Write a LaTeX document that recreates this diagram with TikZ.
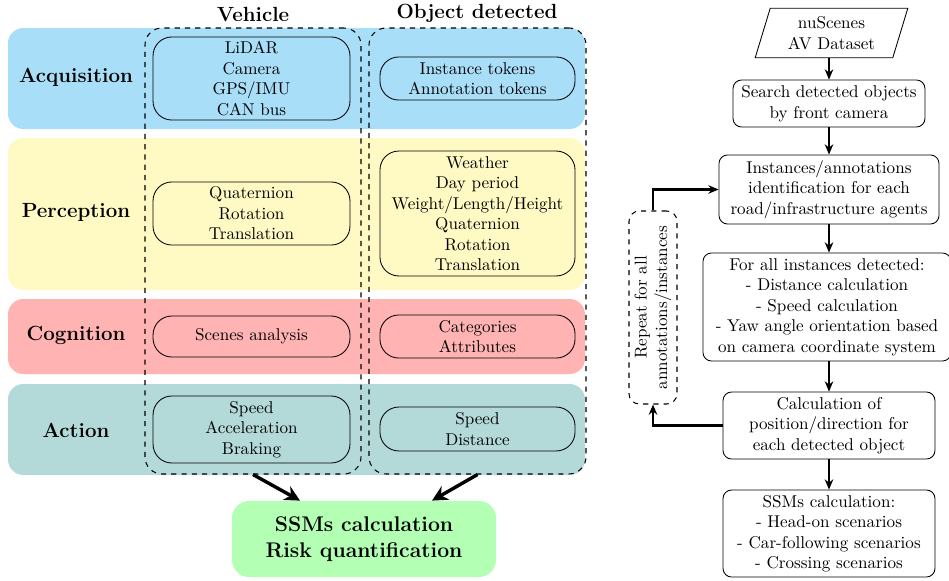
\documentclass[tikz,border=0pt]{standalone}
\usetikzlibrary{arrows.meta,fit,shapes.geometric,calc}
\definecolor{acqblue}{RGB}{168,222,248}
\definecolor{percyellow}{RGB}{255,249,196}
\definecolor{cogred}{RGB}{255,179,179}
\definecolor{actteal}{RGB}{179,217,217}
\definecolor{resgreen}{RGB}{179,255,179}
\begin{document}
\begin{tikzpicture}[x=0.585pt,y=-0.585pt,
  band/.style={draw=none, inner sep=0pt, rounded corners=9pt},
  rowlabel/.style={font=\large\bfseries},
  header/.style={font=\large\bfseries},
  column/.style={draw, dashed, rounded corners=10pt, inner sep=0pt, line width=0.6pt},
  item/.style={draw, rounded corners=11pt, inner sep=0pt, align=center, line width=0.5pt},
  vitem/.style={item, minimum width=115.2pt},
  oitem/.style={item, minimum width=114.1pt},
  flow/.style={draw, rounded corners=5pt, inner sep=0pt, align=center, line width=0.5pt},
  flowarrow/.style={-{Stealth[length=6pt,width=5pt]}, line width=1.2pt},
  bigarrow/.style={-{Stealth[length=9pt,width=9pt]}, line width=2pt}]
\useasboundingbox (0,0) rectangle (949,581);

% ---- layer bands ----
\node[band, fill=acqblue,    fit={(8,28)(585,129)}]  (acq) {};
\node[band, fill=percyellow, fit={(8,138)(585,290)}] (per) {};
\node[band, fill=cogred,     fit={(8,299)(585,374)}] (cog) {};
\node[band, fill=actteal,    fit={(8,384)(585,475)}] (act) {};

\node[rowlabel] (acqlab) at (76,77)  {Acquisition};
\node[rowlabel] (perlab) at (76,212) {Perception};
\node[rowlabel] (coglab) at (76,335) {Cognition};
\node[rowlabel] (actlab) at (76,430) {Action};

% ---- columns ----
\node[column, fit={(145,28)(361,474)}] (veh) {};
\node[column, fit={(369,28)(586,474)}] (obj) {};
\node[header] (vehhead) at (253,14) {Vehicle};
\node[header] (objhead) at (477,13) {Object detected};

% ---- vehicle items ----
\node[vitem, minimum height=48.6pt] (vacq) at (251.5,78.5)  {LiDAR\\Camera\\GPS/IMU\\CAN bus};
\node[vitem, minimum height=36.9pt] (vper) at (251.5,213.5) {Quaternion\\Rotation\\Translation};
\node[vitem, minimum height=24pt]   (vcog) at (251.5,336.5) {Scenes analysis};
\node[vitem, minimum height=39.2pt] (vact) at (251.5,429.5) {Speed\\Acceleration\\Braking};

% ---- object items ----
\node[oitem, minimum height=25.2pt] (oacq) at (477.5,78.5)  {Instance tokens\\Annotation tokens};
\node[oitem, minimum height=73.1pt] (oper) at (477.5,213.5) {Weather\\Day period\\Weight/Length/Height\\Quaternion\\Rotation\\Translation};
\node[oitem, minimum height=25.2pt] (ocog) at (477.5,336.5) {Categories\\Attributes};
\node[oitem, minimum height=25.7pt] (oact) at (477.5,429)   {Speed\\Distance};

% ---- result ----
\node[fill=resgreen, rounded corners=10pt, inner sep=0pt, minimum width=154.4pt, minimum height=44.5pt,
      font=\fontsize{12.4}{15.2}\selectfont\bfseries, align=center] (risk) at (364,539)
      {SSMs\ calculation\\Risk\ quantification};
\draw[bigarrow] (veh.south) -- ($(risk.north)+(-64,0)$);
\draw[bigarrow] (obj.south) -- ($(risk.north)+(68,0)$);

% ---- flowchart ----
\node[draw, trapezium, trapezium left angle=72, trapezium right angle=108,
      trapezium stretches=true, minimum width=89.5pt, minimum height=29pt,
      inner sep=0pt, align=center, line width=0.5pt] (data) at (831.5,33) {nuScenes\\AV Dataset};
\node[flow, minimum width=112.3pt, minimum height=27.5pt] (search) at (829,103.5) {Search detected objects\\by front camera};
\node[flow, minimum width=128.7pt, minimum height=40.4pt] (inst) at (829,189.5) {Instances/annotations\\identification for each\\road/infrastructure agents};
\node[flow, minimum width=145.1pt, minimum height=63.2pt] (forall) at (827,307) {For all instances detected:\\- Distance calculation\\- Speed calculation\\- Yaw angle orientation based\\on camera coordinate system};
\node[flow, minimum width=124pt, minimum height=39.2pt] (calc) at (829,425.5) {Calculation of\\position/direction for\\each detected object};
\node[flow, minimum width=124pt, minimum height=50.9pt] (ssm) at (829,533.5) {SSMs calculation:\\- Head-on scenarios\\- Car-following scenarios\\- Crossing scenarios};

\node[draw, dashed, rounded corners=6pt, inner sep=0pt, line width=0.6pt, fit={(629,211)(677,404)}] (rep) {};
\node[rotate=90, align=center] (reptext) at (rep.center) {Repeat for all\\annotations/instances};

\draw[flowarrow] (search.north |- data.south) -- (search.north);
\draw[flowarrow] (search.south) -- (inst.north);
\draw[flowarrow] (inst.south) -- (inst.south |- forall.north);
\draw[flowarrow] (calc.north |- forall.south) -- (calc.north);
\draw[flowarrow] (calc.south) -- (ssm.north);
\draw[flowarrow] (rep.north) |- (inst.west);
\draw[flowarrow] (calc.west) -| (rep.south);
\end{tikzpicture}
\end{document}
